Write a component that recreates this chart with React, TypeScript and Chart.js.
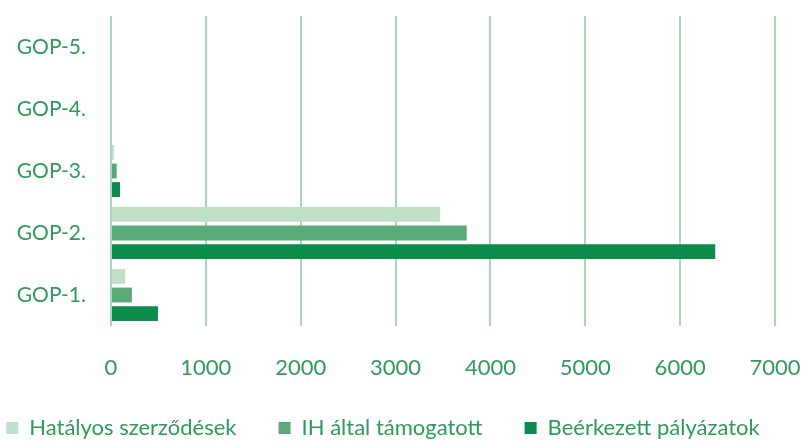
import React, { useEffect, useRef } from "react";
import { Chart, registerables } from "chart.js";

Chart.register(...registerables);

const categories = ["GOP-5.", "GOP-4.", "GOP-3.", "GOP-2.", "GOP-1."];
const hatalyos = [0, 0, 30, 3470, 150];
const ihAltal = [0, 0, 60, 3750, 220];
const beerkezett = [0, 0, 95, 6370, 495];
const seriesNames = ["Hatályos szerződések", "IH által támogatott", "Beérkezett pályázatok"];
const seriesColors = ["#bfdfc7", "#5aaa78", "#0b8c4a"];
const xMax = 7000;
const xStep = 1000;

const TEXT = "#2f9a5b";
const GRID = "#a9d6b5";
const FONT = "Lato, 'Open Sans', sans-serif";

const bottomLegend = {
  id: "bottomLegend",
  afterDraw(chart: any) {
    const ctx = chart.ctx as CanvasRenderingContext2D;
    const items = chart.data.datasets.map((d: any) => ({ text: d.label, color: d.backgroundColor }));
    ctx.save();
    ctx.font = `22px ${FONT}`;
    ctx.textBaseline = "middle";
    ctx.textAlign = "left";
    const box = 12;
    const gapBox = 11;
    const gap = 42;
    const widths = items.map((it: any) => box + gapBox + ctx.measureText(it.text).width);
    const total = widths.reduce((a: number, b: number) => a + b, 0) + gap * (items.length - 1);
    let x = (chart.width - total) / 2 - 19;
    const y = chart.height - 13;
    items.forEach((it: any, i: number) => {
      ctx.fillStyle = it.color;
      ctx.fillRect(x, y - box / 2, box, box);
      ctx.fillStyle = TEXT;
      ctx.fillText(it.text, x + box + gapBox, y);
      x += widths[i] + gap;
    });
    ctx.restore();
  },
};

export default function App() {
  const ref = useRef<HTMLCanvasElement | null>(null);
  useEffect(() => {
    document.body.style.margin = "0";
    const ctx = ref.current!;
    const chart = new Chart(ctx, {
      type: "bar",
      data: {
        labels: categories,
        datasets: [
          { label: seriesNames[0], data: hatalyos, backgroundColor: seriesColors[0] },
          { label: seriesNames[1], data: ihAltal, backgroundColor: seriesColors[1] },
          { label: seriesNames[2], data: beerkezett, backgroundColor: seriesColors[2] },
        ],
      },
      options: {
        indexAxis: "y",
        animation: false,
        responsive: false,
        maintainAspectRatio: false,
        datasets: { bar: { categoryPercentage: 0.9, barPercentage: 0.8 } },
        layout: { padding: { top: 16, right: 29, left: 0, bottom: 53 } },
        plugins: {
          tooltip: { enabled: false },
          legend: { display: false },
        },
        scales: {
          x: {
            min: 0,
            max: xMax,
            ticks: {
              stepSize: xStep,
              color: TEXT,
              font: { family: FONT, size: 22 },
              padding: 29,
              callback: (v: any) => String(v),
            },
            grid: { color: GRID, lineWidth: 2, drawTicks: false },
            border: { display: false },
            afterFit: (s: any) => {
              s.height = 62;
              s.paddingLeft = 0;
              s.paddingRight = 0;
            },
          },
          y: {
            ticks: { color: TEXT, font: { family: FONT, size: 21 }, padding: 25 },
            grid: { display: false, drawTicks: false },
            border: { display: false },
            afterFit: (s: any) => {
              s.width = 111;
              s.paddingTop = 0;
              s.paddingBottom = 0;
            },
          },
        },
      },
      plugins: [bottomLegend],
    });
    return () => chart.destroy();
  }, []);
  return (
    <div style={{ position: "absolute", left: 0, top: 0, width: 804, height: 441, background: "#fff" }}>
      <canvas ref={ref} width={804} height={441} />
    </div>
  );
}
